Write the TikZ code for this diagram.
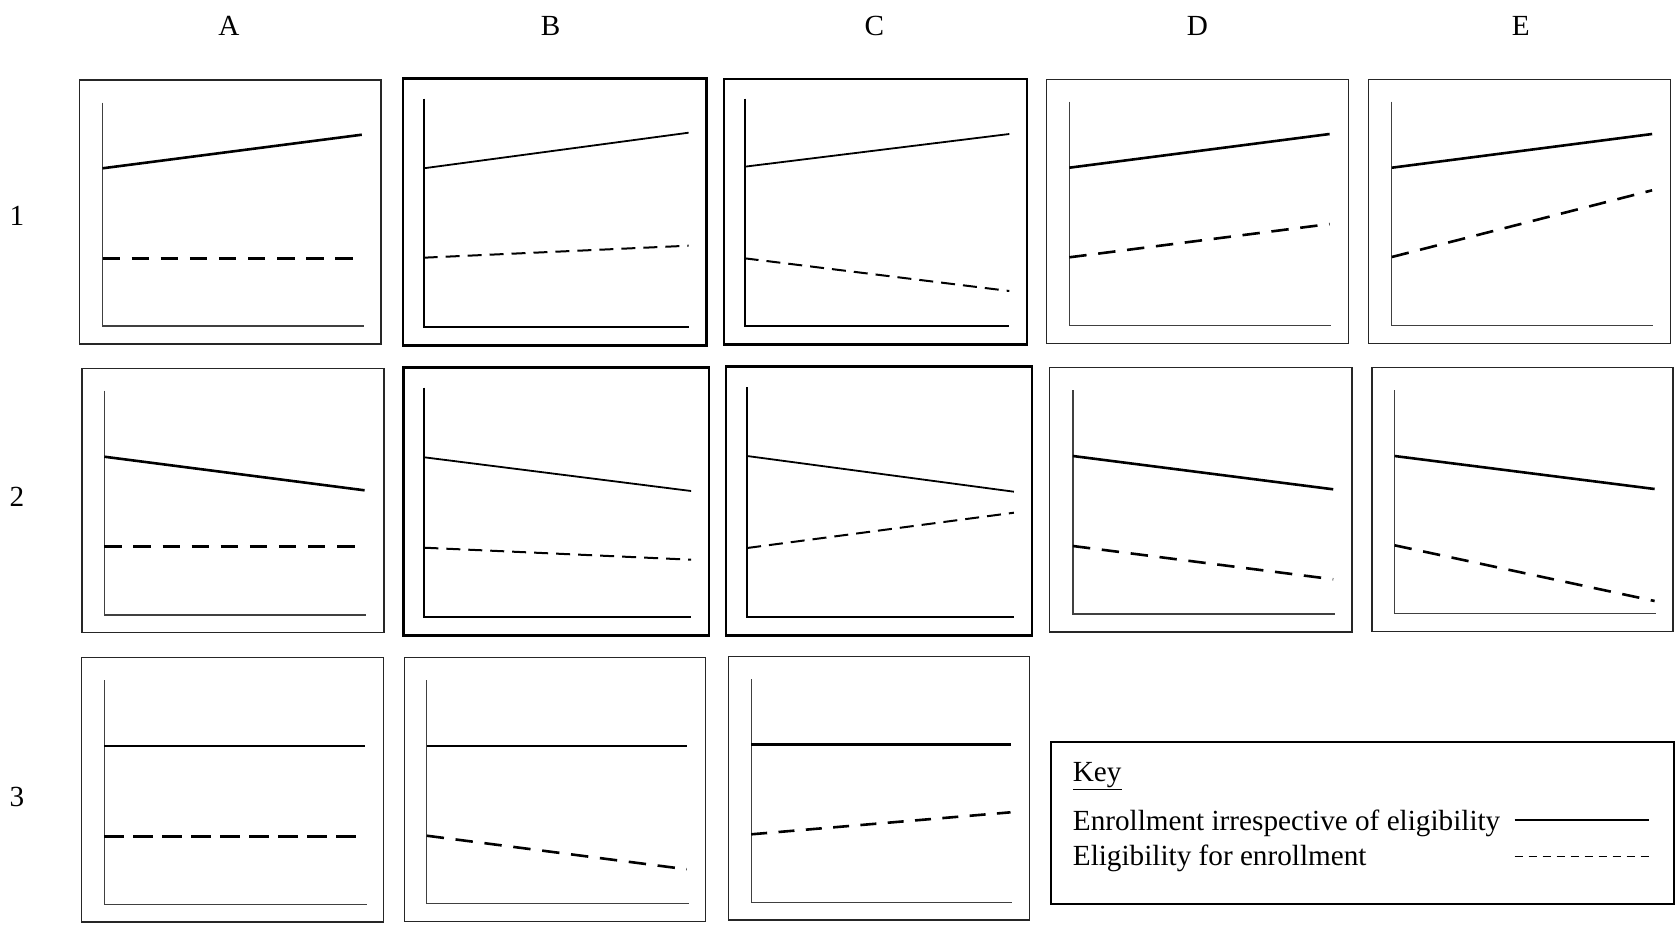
\documentclass[tikz,border=0pt]{standalone}
\usepackage{fontspec}
\setmainfont{Liberation Serif}
\begin{document}
\begin{tikzpicture}[x=1pt,y=-1pt,
  lbl/.style={inner sep=0pt, font=\fontsize{29.2}{35}\selectfont},
  frame/.style={draw=black!85, line width=1.5pt},
  frameb/.style={draw=black, line width=2.5pt},
  axis/.style={draw=black!75, line width=1.2pt},
  axisb/.style={draw=black, line width=2pt},
  trend/.style={line width=2.6pt},
  trendt/.style={line width=1.8pt},
  dtrend/.style={line width=2.6pt, dash pattern=on 17.4pt off 11.7pt},
  dtrendA/.style={line width=2.8pt, dash pattern=on 19.4pt off 9.6pt},
  dtrendC/.style={line width=2.6pt, dash pattern=on 16pt off 11.4pt},
  dtrendt/.style={line width=2pt, dash pattern=on 14pt off 8pt},
  ksolid/.style={line width=1.5pt},
  kdash/.style={line width=1.2pt, dash pattern=on 8.5pt off 5.5pt}
]
\useasboundingbox (0,0) rectangle (1680,924);

% column and row labels
\node[lbl, anchor=base] (colA) at (228.9,35) {A};
\node[lbl, anchor=base] (colB) at (550.7,35) {B};
\node[lbl, anchor=base] (colC) at (874.3,35) {C};
\node[lbl, anchor=base] (colD) at (1197.5,35) {D};
\node[lbl, anchor=base] (colE) at (1520.7,35) {E};
\node[lbl, anchor=base] (row1) at (16.8,225) {1};
\node[lbl, anchor=base] (row2) at (16.8,506) {2};
\node[lbl, anchor=base] (row3) at (16.8,806.7) {3};

% ---------- Row 1 ----------
% A1
\draw[frame] (79.3,80) rectangle (381.1,344);
\draw[axis] (102.5,102.7) -- (102.5,326) -- (363.6,326);
\draw[trend] (102.5,168.3) -- (361.8,134.7);
\draw[dtrend] (102.5,258.3) -- (352.9,258.3);
% B1
\draw[frameb] (402.9,78.7) rectangle (706.4,345.7);
\draw[axisb] (423.6,98.7) -- (423.6,326.7) -- (688.6,326.7);
\draw[trendt] (423.6,168.3) -- (688.6,132.7);
\draw[dtrendt] (423.6,257.7) -- (688.6,245.7);
% C1
\draw[frameb] (723.9,79) rectangle (1026.8,344.3);
\draw[axisb] (744.6,98.7) -- (744.6,326) -- (1009.3,326);
\draw[trendt] (744.6,166.7) -- (1009.3,134);
\draw[dtrendt] (744.6,258.3) -- (1009.3,291);
% D1
\draw[frame] (1046.4,79.3) rectangle (1348.6,343.7);
\draw[axis] (1069.3,101.7) -- (1069.3,325.7) -- (1331.4,325.7);
\draw[trend] (1069.3,167.7) -- (1329.6,134);
\draw[dtrend] (1069.3,257.3) -- (1329.6,224);
% E1
\draw[frame] (1368.6,79.3) rectangle (1670.7,343.3);
\draw[axis] (1391.8,101.7) -- (1391.8,325.7) -- (1653.2,325.7);
\draw[trend] (1391.8,167.7) -- (1652.1,134);
\draw[dtrend] (1391.8,257) -- (1652.1,190.3);

% ---------- Row 2 ----------
% A2
\draw[frame] (81.8,368.3) rectangle (383.9,632.7);
\draw[axis] (104.3,390.7) -- (104.3,615) -- (366.1,615);
\draw[trend] (104.3,456.7) -- (364.6,490.3);
\draw[dtrend] (104.3,546.3) -- (356.1,546.3);
% B2
\draw[frameb] (403.6,367.7) rectangle (708.9,635.7);
\draw[axisb] (424.3,387.7) -- (424.3,616.7) -- (691.1,616.7);
\draw[trendt] (424.3,457.3) -- (691.1,491);
\draw[dtrendt] (424.3,547.7) -- (691.1,559.7);
% C2
\draw[frameb] (726.1,366.7) rectangle (1032.1,635.7);
\draw[axisb] (747.1,387) -- (747.1,616.7) -- (1013.9,616.7);
\draw[trendt] (747.1,456) -- (1013.9,491.7);
\draw[dtrendt] (747.1,548) -- (1013.9,512.7);
% D2
\draw[frame] (1049.6,367.3) rectangle (1352.1,632);
\draw[axis] (1072.9,390) -- (1072.9,614) -- (1334.6,614);
\draw[trend] (1072.9,456) -- (1333.2,489.3);
\draw[dtrend] (1072.9,546) -- (1333.2,579.3);
% E2
\draw[frame] (1372.1,367.3) rectangle (1673.2,631.3);
\draw[axis] (1394.6,390) -- (1394.6,613.3) -- (1656.1,613.3);
\draw[trend] (1394.6,456) -- (1654.6,489);
\draw[dtrend] (1394.6,545.3) -- (1654.6,601);

% ---------- Row 3 ----------
% A3
\draw[frame] (81.7,657.7) rectangle (383.3,922);
\draw[axis] (104.3,680) -- (104.3,904.3) -- (366.7,904.3);
\draw[trend] (104.3,746) -- (365,746);
\draw[dtrendA] (104.3,836.3) -- (356,836.3);
% B3
\draw[frame] (404.4,657.7) rectangle (705.3,921.7);
\draw[axis] (426.7,680) -- (426.7,903.7) -- (688.5,903.7);
\draw[trend] (426.7,746) -- (686.8,746);
\draw[dtrend] (426.7,835.7) -- (686.8,869.3);
% C3
\draw[frame] (728.5,656.7) rectangle (1029.4,920);
\draw[axis] (751.2,679.3) -- (751.2,902.3) -- (1012.2,902.3);
\draw[trend] (751.2,744.7) -- (1010.5,744.7);
\draw[dtrendC] (751.2,834.3) -- (1010.5,812.3);

% ---------- Key ----------
\draw[frameb, line width=2pt] (1051.4,741.7) rectangle (1673.9,904.3);
\node[lbl, anchor=base west] (keyhead) at (1072.7,781) {\underline{Key}};
\node[lbl, anchor=base west] (key1) at (1072.7,830) {Enrollment irrespective of eligibility};
\node[lbl, anchor=base west] (key2) at (1072.7,865.7) {Eligibility for enrollment};
\coordinate (k1a) at (1514.7,820);
\coordinate (k1b) at (1649.4,820);
\coordinate (k2a) at (1514.7,856.7);
\coordinate (k2b) at (1649.4,856.7);
\draw[ksolid] (k1a) -- (k1b);
\draw[kdash] (k2a) -- (k2b);
\end{tikzpicture}
\end{document}
